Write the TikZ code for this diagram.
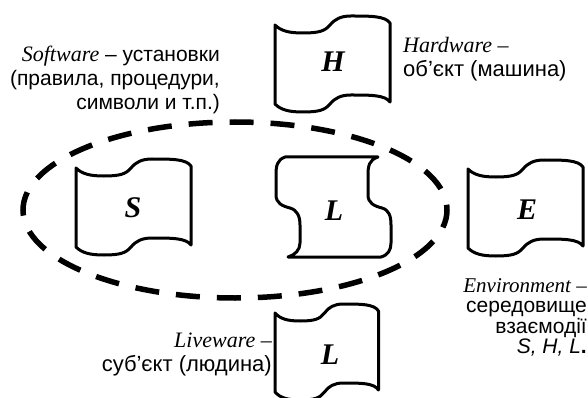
\documentclass[tikz,border=0pt]{standalone}
\usepackage{fontspec}
\setmainfont{Liberation Sans}
\newfontfamily\tms{Liberation Serif}
\tikzset{
  shapeline/.style={draw=black, line width=3pt, line join=round},
  groupline/.style={draw=black, line width=5.5pt, dash pattern=on 24pt off 17pt, dash phase=6pt},
  letter/.style={font=\tms\bfseries\itshape\fontsize{30}{30}\selectfont, inner sep=0pt},
  txt/.style={font=\fontsize{21}{24}\selectfont, inner sep=0pt},
  txtc/.style={font=\fontsize{22}{24}\selectfont, inner sep=0pt},
  txtb/.style={font=\fontsize{21}{20}\selectfont, inner sep=0pt},
  pics/flagshape/.style={code={
    \draw[shapeline] (0,0) .. controls (6,6) and (14,8) .. (28,8)
      .. controls (44,8) and (50,6) .. (55,0)
      .. controls (60,-6) and (66,-9) .. (76,-9)
      .. controls (96,-9) and (110,-9) .. (115,-2)
      -- (115,77)
      .. controls (110,70) and (96,70) .. (76,70)
      .. controls (66,70) and (60,73) .. (55,79)
      .. controls (50,85) and (44,87) .. (28,87)
      .. controls (14,87) and (6,85) .. (0,79) -- cycle;
  }}
}
\begin{document}
\begin{tikzpicture}[x=1pt, y=-1pt]
\useasboundingbox (0,0) rectangle (588,398);
% dashed group ellipse
\draw[groupline] (235,210) ellipse [x radius=212, y radius=88];
% shapes
\pic at (275,25) {flagshape};
\pic at (76,168) {flagshape};
\pic at (468,169) {flagshape};
\pic[xscale=0.9] at (275,313) {flagshape};
\draw[shapeline] (285,157) -- (378,157)
  .. controls (369,160) and (368,166) .. (368,175) -- (368,195)
  .. controls (368,203) and (374,206) .. (382,208)
  .. controls (389,210) and (391,216) .. (391,225) -- (391,243)
  .. controls (391,250) and (388,255) .. (381,257) -- (288,257)
  .. controls (295,255) and (300,250) .. (300,243) -- (300,225)
  .. controls (300,216) and (297,210) .. (290,208)
  .. controls (282,206) and (276,203) .. (276,195) -- (276,175)
  .. controls (276,166) and (277,160) .. (285,157) -- cycle;
% letters
\node[letter] (H) at (333,62) {H};
\node[letter] (S) at (133,208) {S};
\node[letter] (Lm) at (334,211) {L};
\node[letter] (E) at (527,210) {E};
\node[letter] (Lb) at (330,355) {L};
% texts
\node[txt, anchor=base east] (sw) at (220,62) {\begin{tabular}[t]{@{}r@{}}{\tms\itshape\fontsize{22}{24}\selectfont Software} – установки\\(правила, процедури,\\символи и т.п.)\end{tabular}};
\node[txtc, anchor=base west] (hw) at (403,53) {\begin{tabular}[t]{@{}l@{}}{\tms\itshape Hardware –}\\об’єкт (машина)\end{tabular}};
\node[txtc, anchor=base east] (lw) at (272,347) {\begin{tabular}[t]{@{}r@{}}{\tms\itshape Liveware –}\\суб’єкт (людина)\end{tabular}};
\node[txtb, anchor=base east] (ev) at (587,292) {\begin{tabular}[t]{@{}r@{}}{\tms\itshape Environment –}\\середовище\\взаємодії\\{\itshape S, H, L}\textbf{.}\end{tabular}};
\end{tikzpicture}
\end{document}
